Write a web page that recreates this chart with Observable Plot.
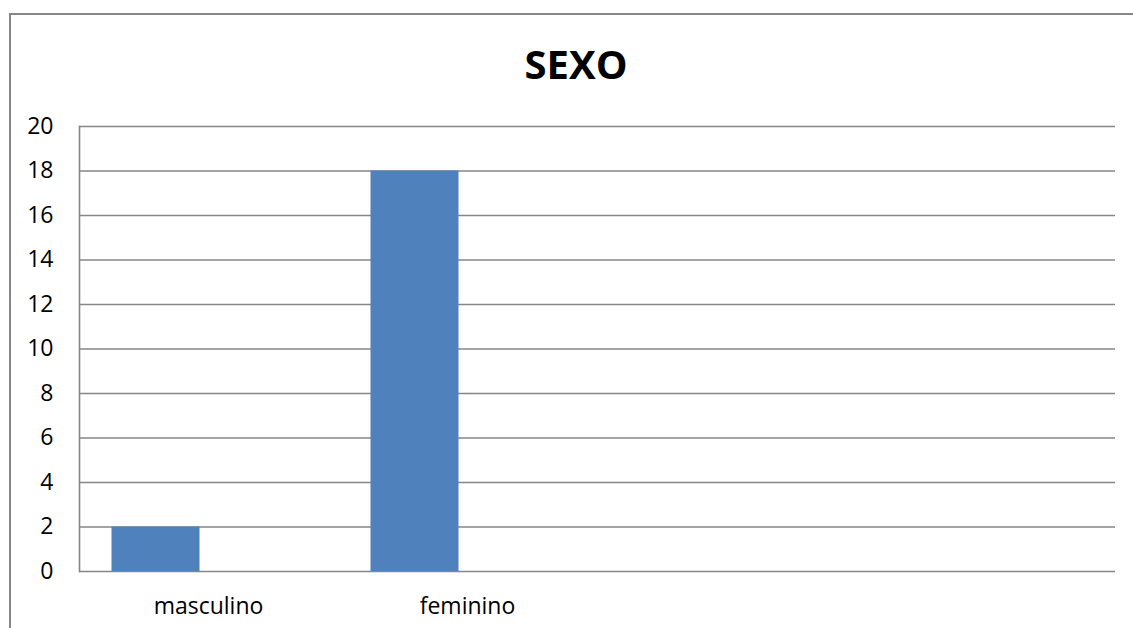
<!DOCTYPE html>
<html>
<head>
<meta charset="utf-8">
<script src="https://cdn.jsdelivr.net/npm/d3@7"></script>
<script src="https://cdn.jsdelivr.net/npm/@observablehq/plot@0.6"></script>
<style>
  html, body { margin: 0; padding: 0; background: #fff; overflow: hidden; }
  body { width: 1133px; height: 628px; position: relative; font-family: "Open Sans", sans-serif; }
  #frame { position: absolute; left: 9px; top: 13px; width: 1131px; height: 700px; border: 2px solid #868686; box-sizing: border-box; }
  #title { position: absolute; left: 10px; width: 1132px; top: 44px; text-align: center; font: bold 40px/40px "Open Sans", sans-serif; color: #000; }
  #chart { position: absolute; left: 0; top: 100px; }
</style>
</head>
<body>
<div id="frame"></div>
<div id="title">SEXO</div>
<div id="chart"></div>
<script>
const categories = ["masculino", "feminino", "c3", "c4"];
const categoryLabels = ["masculino", "feminino", "", ""];
const values = [2, 18];
const yTicks = [0, 2, 4, 6, 8, 10, 12, 14, 16, 18, 20];

const data = values.map((v, i) => ({ category: categories[i], value: v }));
const labelOf = new Map(categories.map((c, i) => [c, categoryLabels[i]]));

const chart = Plot.plot({
  width: 1133,
  height: 528,
  marginTop: 26,
  marginBottom: 57,
  marginLeft: 79,
  marginRight: 18,
  style: { fontFamily: "'Open Sans', sans-serif", fontSize: "23px", color: "#000", background: "transparent", overflow: "visible" },
  x: { domain: categories, paddingInner: 0.66, paddingOuter: 0.33, label: null },
  y: { domain: [0, 20], ticks: yTicks, label: null },
  marks: [
    Plot.ruleY(yTicks, { stroke: "#868686", strokeWidth: 1.6 }),
    Plot.frame({ anchor: "left", stroke: "#868686", strokeWidth: 1.6 }),
    Plot.barY(data, { x: "category", y: "value", fill: "#4f81bd", dx: -52.5 }),
    Plot.axisY({ ticks: yTicks, tickSize: 0, tickPadding: 26, fontSize: 23, label: null }),
    Plot.axisX({ tickSize: 0, tickPadding: 26, fontSize: 23, label: null, tickFormat: d => labelOf.get(d) })
  ]
});
document.getElementById("chart").appendChild(chart);
</script>
</body>
</html>
